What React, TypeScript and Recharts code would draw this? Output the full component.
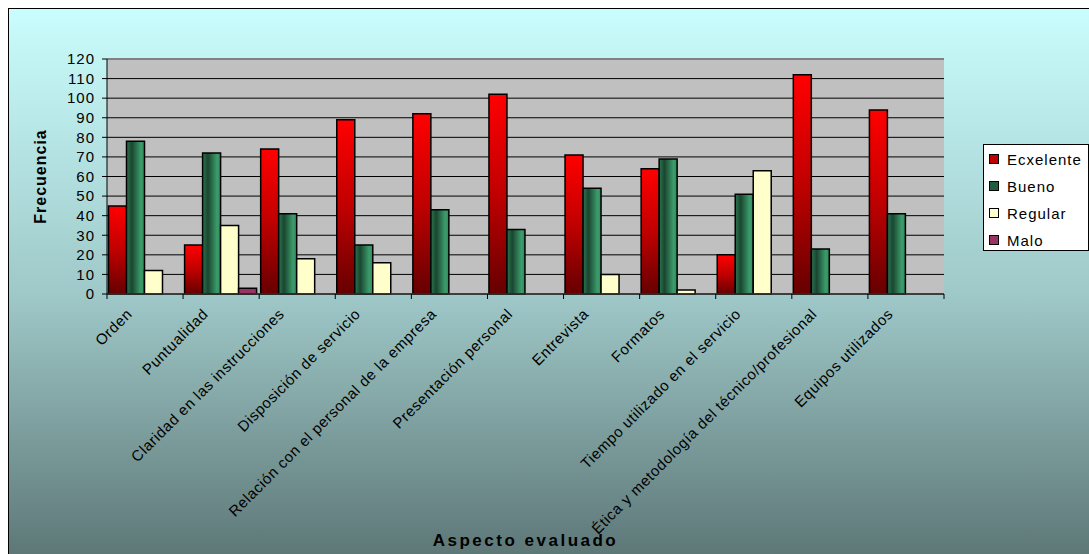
import React from "react";
import { BarChart, Bar, XAxis, YAxis, CartesianGrid, Label } from "recharts";

const categories = [
  "Orden",
  "Puntualidad",
  "Claridad en las instrucciones",
  "Disposición de servicio",
  "Relación con el personal de la empresa",
  "Presentación personal",
  "Entrevista",
  "Formatos",
  "Tiempo utilizado en el servicio",
  "Ética y metodología del técnico/profesional",
  "Equipos utilizados",
];
const excelente = [45, 25, 74, 89, 92, 102, 71, 64, 20, 112, 94];
const bueno = [78, 72, 41, 25, 43, 33, 54, 69, 51, 23, 41];
const regular = [12, 35, 18, 16, 0, 0, 10, 2, 63, 0, 0];
const malo = [0, 3, 0, 0, 0, 0, 0, 0, 0, 0, 0];
const yTicks = [0, 10, 20, 30, 40, 50, 60, 70, 80, 90, 100, 110, 120];

const series = [
  { key: "ecx", name: "Ecxelente", fill: "url(#gEcx)", swatch: "#c00000" },
  { key: "bueno", name: "Bueno", fill: "url(#gBueno)", swatch: "#1f5f3f" },
  { key: "regular", name: "Regular", fill: "#ffffcc", swatch: "#ffffcc" },
  { key: "malo", name: "Malo", fill: "#993366", swatch: "#993366" },
];

const data = categories.map((c, i) => ({
  name: c,
  ecx: excelente[i],
  bueno: bueno[i],
  regular: regular[i],
  malo: malo[i],
}));

const FONT = "'Liberation Sans', Arial, sans-serif";
const PLOT_W = 837;
const BAND = PLOT_W / categories.length;

const XTick = (props: any) => {
  const { x, y, payload, index } = props;
  const tx = x - 12;
  const ty = y + 21;
  return (
    <g>
      <line x1={x - BAND / 2} x2={x - BAND / 2} y1={y} y2={y + 5} stroke="#000" />
      {index === categories.length - 1 && (
        <line x1={x + BAND / 2} x2={x + BAND / 2} y1={y} y2={y + 5} stroke="#000" />
      )}
      <text
        x={tx}
        y={ty}
        transform={`rotate(-45 ${tx} ${ty})`}
        textAnchor="end"
        fontSize={15}
        letterSpacing={0.6}
        fill="#000"
        fontFamily={FONT}
      >
        {payload.value}
      </text>
    </g>
  );
};

const GridLine = (props: any) => {
  const { x1, x2, y1, y2 } = props;
  const top = y1 < 51;
  return <line x1={x1} x2={x2} y1={y1} y2={y2} stroke={top ? "#808080" : "#000"} strokeWidth={top ? 2 : 1} />;
};

export default function App() {
  return (
    <div
      style={{
        position: "fixed",
        left: 8,
        top: 8,
        width: 1090,
        height: 550,
        borderLeft: "1px solid #000",
        borderTop: "1px solid #000",
        background: "linear-gradient(to bottom, #cafdfd 0%, #9fc8c8 52%, #5d7676 100%)",
        fontFamily: FONT,
        overflow: "hidden",
      }}
    >
      <BarChart
        width={1080}
        height={545}
        data={data}
        margin={{ top: 50, right: 145, left: 0, bottom: 8 }}
        barCategoryGap={1.5}
        barGap={0}
      >
        <defs>
          <linearGradient id="gEcx" x1="0" y1="0" x2="0" y2="1">
            <stop offset="0%" stopColor="#ff0000" />
            <stop offset="50%" stopColor="#c00000" />
            <stop offset="100%" stopColor="#660000" />
          </linearGradient>
          <linearGradient id="gBueno" x1="0" y1="0" x2="1" y2="0">
            <stop offset="0%" stopColor="#2c744f" />
            <stop offset="30%" stopColor="#1a4630" />
            <stop offset="80%" stopColor="#3c9c6c" />
            <stop offset="100%" stopColor="#2f8a5c" />
          </linearGradient>
        </defs>
        <CartesianGrid vertical={false} horizontal={<GridLine />} fill="#c0c0c0" fillOpacity={1} stroke="#000" />
        <XAxis
          dataKey="name"
          height={252}
          interval={0}
          tickLine={false}
          tickSize={0}
          tickMargin={0}
          tick={<XTick />}
          axisLine={{ stroke: "#333", strokeWidth: 1.5 }}
        >
          <Label
            value="Aspecto evaluado"
            position="insideBottom"
            offset={0}
            style={{ fontSize: 17, fontWeight: "bold", letterSpacing: 2.5, fill: "#000", fontFamily: FONT }}
          />
        </XAxis>
        <YAxis
          width={98}
          domain={[0, 120]}
          ticks={yTicks}
          interval={0}
          tickSize={5}
          tickMargin={7}
          tickLine={{ stroke: "#000" }}
          axisLine={{ stroke: "#000" }}
          tick={{ fontSize: 15, fill: "#000", letterSpacing: 1, fontFamily: FONT }}
        >
          <Label
            content={(p: any) => {
              const vb = p.viewBox;
              const cx = 37;
              const cy = vb.y + vb.height / 2;
              return (
                <text
                  x={cx}
                  y={cy}
                  transform={`rotate(-90 ${cx} ${cy})`}
                  textAnchor="middle"
                  fontSize={16}
                  fontWeight="bold"
                  letterSpacing={1}
                  fill="#000"
                  fontFamily={FONT}
                >
                  Frecuencia
                </text>
              );
            }}
          />
        </YAxis>
        <YAxis
          yAxisId="r"
          orientation="right"
          width={0}
          domain={[0, 120]}
          tick={false}
          tickLine={false}
          axisLine={{ stroke: "#808080", strokeWidth: 2 }}
        />
        {series.map((s) => (
          <Bar
            key={s.key}
            dataKey={s.key}
            name={s.name}
            fill={s.fill}
            stroke="#000"
            strokeWidth={1.5}
            isAnimationActive={false}
          />
        ))}
      </BarChart>
      <div
        style={{
          position: "absolute",
          left: 974,
          top: 135,
          width: 106,
          height: 107,
          background: "#fff",
          border: "1px solid #000",
          boxSizing: "border-box",
        }}
      >
        {series.map((s, i) => (
          <div
            key={s.key}
            style={{
              position: "absolute",
              left: 5,
              top: 3 + 27 * i,
              height: 19,
              lineHeight: "19px",
              fontSize: 15,
              letterSpacing: 1,
              whiteSpace: "nowrap",
            }}
          >
            <span
              style={{
                display: "inline-block",
                width: 8,
                height: 8,
                border: "1px solid #000",
                background: s.swatch,
                marginRight: 8,
                verticalAlign: "middle",
              }}
            />
            <span style={{ verticalAlign: "middle" }}>{s.name}</span>
          </div>
        ))}
      </div>
    </div>
  );
}
